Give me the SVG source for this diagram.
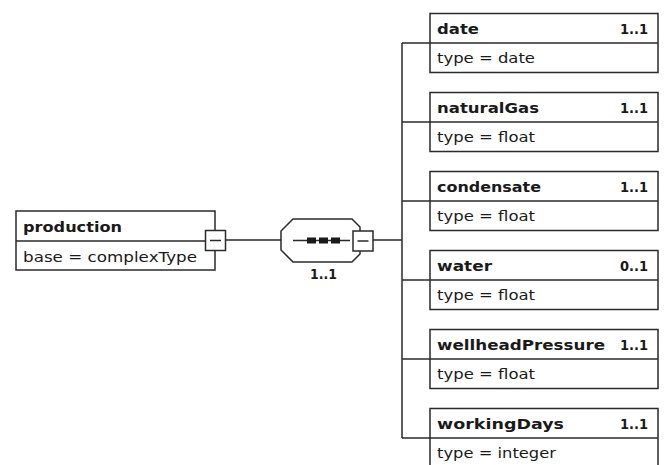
<svg xmlns="http://www.w3.org/2000/svg" width="668" height="465" viewBox="0 0 668 465">
<style>
.box{fill:#fff;stroke:#2a2a2a;stroke-width:1.5}
.ln{fill:none;stroke:#2a2a2a;stroke-width:1.5}
.nm{font-family:"DejaVu Sans",sans-serif;font-size:14.5px;font-weight:bold;fill:#1a1a1a}
.tp{font-family:"DejaVu Sans",sans-serif;font-size:14.5px;fill:#1a1a1a}
.oc{font-family:"DejaVu Sans",sans-serif;font-size:14.5px;font-weight:bold;fill:#1a1a1a}
</style>
<rect width="668" height="465" fill="#fff"/>
<g id="connectors">
<line class="ln" x1="226" y1="240" x2="281" y2="240"/>
<line class="ln" x1="373" y1="240" x2="402" y2="240"/>
<line class="ln" x1="402" y1="43" x2="402" y2="438"/>
<line class="ln" x1="402" y1="43" x2="430" y2="43"/>
<line class="ln" x1="402" y1="122" x2="430" y2="122"/>
<line class="ln" x1="402" y1="201" x2="430" y2="201"/>
<line class="ln" x1="402" y1="280" x2="430" y2="280"/>
<line class="ln" x1="402" y1="359" x2="430" y2="359"/>
<line class="ln" x1="402" y1="438" x2="430" y2="438"/>
</g>
<g id="production">
<rect class="box" x="16" y="211" width="199" height="59"/>
<line class="ln" x1="16" y1="241" x2="215" y2="241"/>
<text class="nm" x="23" y="232" textLength="99" lengthAdjust="spacingAndGlyphs">production</text>
<text class="tp" x="23" y="262" textLength="174" lengthAdjust="spacingAndGlyphs">base = complexType</text>
<rect class="box" x="205.5" y="230.5" width="20" height="20"/>
<line class="ln" x1="210" y1="240.5" x2="221" y2="240.5"/>
</g>
<g id="sequence">
<polygon class="box" points="293,219 352,219 360,227 360,254 352,262 293,262 281,250 281,231"/>
<line class="ln" x1="293" y1="240.5" x2="350" y2="240.5"/>
<rect x="307" y="237.5" width="9" height="6" fill="#1a1a1a"/>
<rect x="319" y="237.5" width="9" height="6" fill="#1a1a1a"/>
<rect x="331" y="237.5" width="9" height="6" fill="#1a1a1a"/>
<rect class="box" x="353" y="231" width="20" height="20"/>
<line class="ln" x1="357.5" y1="241" x2="368.5" y2="241"/>
<text class="oc" x="310" y="279" textLength="27" lengthAdjust="spacingAndGlyphs" fill="#333">1..1</text>
</g>
<g id="date">
<rect class="box" x="430" y="13.5" width="228" height="59"/>
<line class="ln" x1="430" y1="43" x2="658" y2="43"/>
<text class="nm" x="437" y="34" textLength="42" lengthAdjust="spacingAndGlyphs">date</text>
<text class="oc" x="620" y="34" textLength="28" lengthAdjust="spacingAndGlyphs">1..1</text>
<text class="tp" x="437" y="63" textLength="98" lengthAdjust="spacingAndGlyphs">type = date</text>
</g>
<g id="naturalGas">
<rect class="box" x="430" y="92.5" width="228" height="59"/>
<line class="ln" x1="430" y1="122" x2="658" y2="122"/>
<text class="nm" x="437" y="113" textLength="102" lengthAdjust="spacingAndGlyphs">naturalGas</text>
<text class="oc" x="620" y="113" textLength="28" lengthAdjust="spacingAndGlyphs">1..1</text>
<text class="tp" x="437" y="142" textLength="98" lengthAdjust="spacingAndGlyphs">type = float</text>
</g>
<g id="condensate">
<rect class="box" x="430" y="171.5" width="228" height="59"/>
<line class="ln" x1="430" y1="201" x2="658" y2="201"/>
<text class="nm" x="437" y="192" textLength="104" lengthAdjust="spacingAndGlyphs">condensate</text>
<text class="oc" x="620" y="192" textLength="28" lengthAdjust="spacingAndGlyphs">1..1</text>
<text class="tp" x="437" y="221" textLength="98" lengthAdjust="spacingAndGlyphs">type = float</text>
</g>
<g id="water">
<rect class="box" x="430" y="250.5" width="228" height="59"/>
<line class="ln" x1="430" y1="280" x2="658" y2="280"/>
<text class="nm" x="437" y="271" textLength="55" lengthAdjust="spacingAndGlyphs">water</text>
<text class="oc" x="620" y="271" textLength="28" lengthAdjust="spacingAndGlyphs">0..1</text>
<text class="tp" x="437" y="300" textLength="98" lengthAdjust="spacingAndGlyphs">type = float</text>
</g>
<g id="wellheadPressure">
<rect class="box" x="430" y="329.5" width="228" height="59"/>
<line class="ln" x1="430" y1="359" x2="658" y2="359"/>
<text class="nm" x="437" y="350" textLength="168" lengthAdjust="spacingAndGlyphs">wellheadPressure</text>
<text class="oc" x="620" y="350" textLength="28" lengthAdjust="spacingAndGlyphs">1..1</text>
<text class="tp" x="437" y="379" textLength="98" lengthAdjust="spacingAndGlyphs">type = float</text>
</g>
<g id="workingDays">
<rect class="box" x="430" y="408.5" width="228" height="59"/>
<line class="ln" x1="430" y1="438" x2="658" y2="438"/>
<text class="nm" x="437" y="429" textLength="127" lengthAdjust="spacingAndGlyphs">workingDays</text>
<text class="oc" x="620" y="429" textLength="28" lengthAdjust="spacingAndGlyphs">1..1</text>
<text class="tp" x="437" y="458" textLength="119" lengthAdjust="spacingAndGlyphs">type = integer</text>
</g>
</svg>
